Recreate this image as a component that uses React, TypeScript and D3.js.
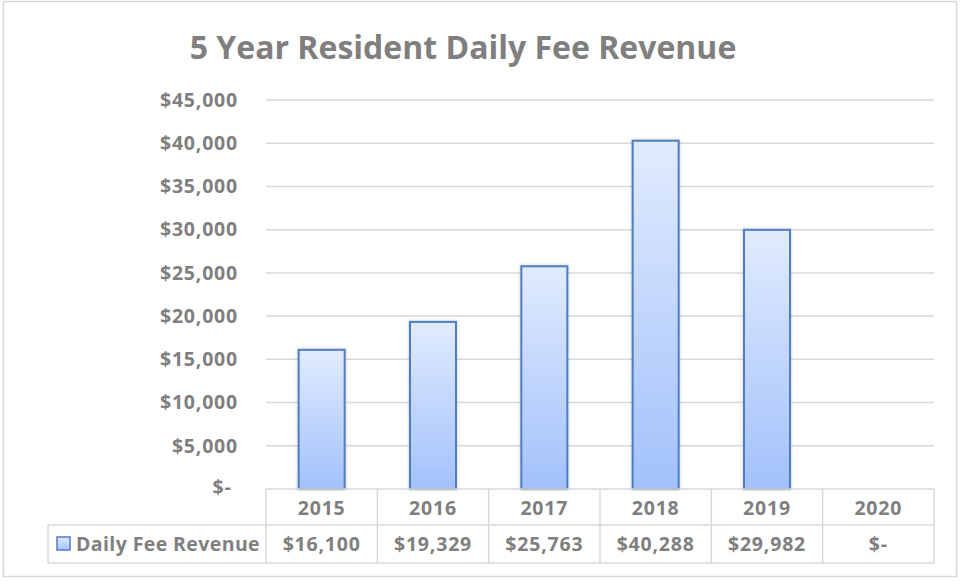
import React from "react";
import * as d3 from "d3";

const title = "5 Year Resident Daily Fee Revenue";
const seriesName = "Daily Fee Revenue";
const years = ["2015", "2016", "2017", "2018", "2019", "2020"];
const revenue = [16100, 19329, 25763, 40288, 29982, 0];
const yTicks = [0, 5000, 10000, 15000, 20000, 25000, 30000, 35000, 40000, 45000];

const W = 960;
const H = 581;
const plotLeft = 266;
const plotRight = 934;
const plotTop = 100;
const plotBottom = 489;
const row1Bottom = 525;
const row2Bottom = 563;
const legendLeft = 48;

const textColor = "#7f7f7f";
const gridColor = "#d9d9d9";
const font = "'Open Sans', sans-serif";
const labelSize = 19.5;
const labelSpacing = 0.8;

const money = (v: number) => (v === 0 ? "$-" : "$" + d3.format(",")(v));

export default function App() {
  const x = d3
    .scaleBand<string>()
    .domain(years)
    .range([plotLeft, plotRight])
    .paddingInner(0.587)
    .paddingOuter(0.587 / 2);
  const cols = d3.scaleBand<string>().domain(years).range([plotLeft, plotRight]);
  const y = d3.scaleLinear().domain([0, 45000]).range([plotBottom, plotTop]);

  const labelProps = {
    fontFamily: font,
    fontWeight: 700,
    fontSize: labelSize,
    fill: textColor,
    letterSpacing: labelSpacing,
  };

  return (
    <div style={{ position: "absolute", left: 0, top: 0 }}>
      <svg width={W} height={H} style={{ display: "block" }}>
        <defs>
          <linearGradient id="barGrad" x1="0" y1="0" x2="0" y2="1">
            <stop offset="0%" stopColor="#e1ebfe" />
            <stop offset="100%" stopColor="#a2c1fb" />
          </linearGradient>
          <filter id="shadow" x="-20%" y="-5%" width="140%" height="110%">
            <feDropShadow dx="0" dy="0" stdDeviation="1.5" floodColor="#000" floodOpacity="0.25" />
          </filter>
        </defs>
        <rect x={0} y={0} width={W} height={H} fill="#ffffff" />
        <rect x={3.5} y={1.5} width={953} height={575} fill="none" stroke={gridColor} strokeWidth={1.5} />

        <text
          x={463}
          y={59}
          textAnchor="middle"
          fontFamily={font}
          fontWeight={700}
          fontSize={32}
          fill={textColor}
        >
          {title}
        </text>

        {yTicks.map((t) => (
          <g key={t}>
            {t > 0 && (
              <line x1={plotLeft} x2={plotRight} y1={y(t)} y2={y(t)} stroke={gridColor} strokeWidth={1.5} />
            )}
            <text
              x={t === 0 ? 222 : 238}
              y={t === 0 ? y(t) - 2 : y(t)}
              dy="0.35em"
              textAnchor={t === 0 ? "middle" : "end"}
              {...labelProps}
            >
              {money(t)}
            </text>
          </g>
        ))}

        {years.map((yr, i) =>
          revenue[i] > 0 ? (
            <rect
              key={yr}
              x={x(yr)}
              y={y(revenue[i])}
              width={x.bandwidth()}
              height={plotBottom - y(revenue[i])}
              fill="url(#barGrad)"
              stroke="#4f7fc0"
              strokeWidth={2}
              filter="url(#shadow)"
            />
          ) : null
        )}

        {/* data table */}
        <g stroke={gridColor} strokeWidth={1.5}>
          <line x1={plotLeft} x2={plotRight} y1={plotBottom} y2={plotBottom} />
          <line x1={legendLeft} x2={plotRight} y1={row1Bottom} y2={row1Bottom} />
          <line x1={legendLeft} x2={plotRight} y1={row2Bottom} y2={row2Bottom} />
          <line x1={legendLeft} x2={legendLeft} y1={row1Bottom} y2={row2Bottom} />
          {years.map((yr) => (
            <line key={yr} x1={cols(yr)} x2={cols(yr)} y1={plotBottom} y2={row2Bottom} />
          ))}
          <line x1={plotRight} x2={plotRight} y1={plotBottom} y2={row2Bottom} />
        </g>

        {years.map((yr, i) => (
          <g key={"t" + yr}>
            <text
              x={(cols(yr) as number) + cols.bandwidth() / 2}
              y={(plotBottom + row1Bottom) / 2 + 1}
              dy="0.35em"
              textAnchor="middle"
              {...labelProps}
            >
              {yr}
            </text>
            <text
              x={(cols(yr) as number) + cols.bandwidth() / 2}
              y={(row1Bottom + row2Bottom) / 2}
              dy="0.35em"
              textAnchor="middle"
              {...labelProps}
            >
              {money(revenue[i])}
            </text>
          </g>
        ))}

        <rect x={57} y={537} width={13} height={13} fill="url(#barGrad)" stroke="#4f7fc0" strokeWidth={1.5} />
        <text x={76} y={(row1Bottom + row2Bottom) / 2} dy="0.35em" {...labelProps} letterSpacing={0.4}>
          {seriesName}
        </text>
      </svg>
    </div>
  );
}
